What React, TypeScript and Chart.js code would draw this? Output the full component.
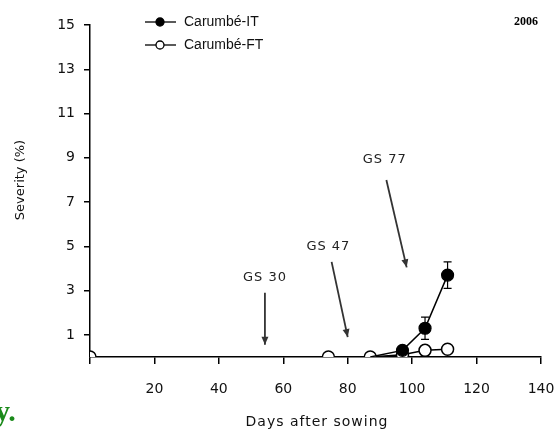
import React, { useEffect, useRef } from "react";
import { Chart, registerables } from "chart.js";
Chart.register(...registerables);

const seriesNames = ["Carumbé-IT", "Carumbé-FT"];
const daysIT = [87, 97, 104, 111];
const sevIT = [0, 0.3, 1.3, 3.7];
const errIT = [0, 0, 0.5, 0.6];
const daysFT = [0, 74, 87, 97, 104, 111];
const sevFT = [0, 0, 0, 0.1, 0.3, 0.35];
const errFT = [0, 0, 0, 0, 0, 0];
const yTicks = [1, 3, 5, 7, 9, 11, 13, 15];
const xTicks = [0, 20, 40, 60, 80, 100, 120, 140];
const stages = ["GS 30", "GS 47", "GS 77"];
const stageLabelX = [54.3, 74, 91.5];
const stageLabelY = [3.6, 5.0, 8.9];
const arrowFromX = [54.3, 75, 92];
const arrowFromY = [2.9, 4.3, 8.0];
const arrowToX = [54.3, 80, 98.3];
const arrowToY = [0.55, 0.9, 4.05];
const yearLabel = "2006";
const xTitle = "Days after sowing";
const yTitle = "Severity (%)";

const SANS = "'DejaVu Sans', Verdana, sans-serif";
const ARIAL = "'Liberation Sans', Arial, sans-serif";
const SERIF = "'Liberation Serif', 'Times New Roman', serif";

const overlay = {
  id: "overlay",
  beforeDatasetsDraw(chart: any) {
    const ctx = chart.ctx;
    const xs = chart.scales.x;
    const ys = chart.scales.y;
    ctx.save();
    ctx.strokeStyle = "#000";
    ctx.lineWidth = 1.2;
    const drawErr = (d: number[], v: number[], e: number[]) => {
      for (let i = 0; i < d.length; i++) {
        if (!e[i]) continue;
        const px = xs.getPixelForValue(d[i]);
        const top = ys.getPixelForValue(v[i] + e[i]);
        const bot = ys.getPixelForValue(v[i] - e[i]);
        ctx.beginPath();
        ctx.moveTo(px, top);
        ctx.lineTo(px, bot);
        ctx.moveTo(px - 4, top);
        ctx.lineTo(px + 4, top);
        ctx.moveTo(px - 4, bot);
        ctx.lineTo(px + 4, bot);
        ctx.stroke();
      }
    };
    drawErr(daysIT, sevIT, errIT);
    drawErr(daysFT, sevFT, errFT);
    ctx.restore();
  },
  afterDraw(chart: any) {
    const ctx = chart.ctx;
    const xs = chart.scales.x;
    const ys = chart.scales.y;
    ctx.save();
    // stage annotations
    ctx.textAlign = "center";
    ctx.textBaseline = "middle";
    for (let i = 0; i < stages.length; i++) {
      ctx.fillStyle = "#222";
      ctx.font = `13px ${SANS}`;
      (ctx as any).letterSpacing = "1px";
      ctx.fillText(stages[i], xs.getPixelForValue(stageLabelX[i]), ys.getPixelForValue(stageLabelY[i]));
      (ctx as any).letterSpacing = "0px";
      const x1 = xs.getPixelForValue(arrowFromX[i]);
      const y1 = ys.getPixelForValue(arrowFromY[i]);
      const x2 = xs.getPixelForValue(arrowToX[i]);
      const y2 = ys.getPixelForValue(arrowToY[i]);
      ctx.strokeStyle = "#333";
      ctx.lineWidth = 1.8;
      ctx.beginPath();
      ctx.moveTo(x1, y1);
      ctx.lineTo(x2, y2);
      ctx.stroke();
      const ang = Math.atan2(y2 - y1, x2 - x1);
      const L = 8, W = 3.5;
      ctx.fillStyle = "#333";
      ctx.beginPath();
      ctx.moveTo(x2, y2);
      ctx.lineTo(x2 - L * Math.cos(ang) + W * Math.sin(ang), y2 - L * Math.sin(ang) - W * Math.cos(ang));
      ctx.lineTo(x2 - L * Math.cos(ang) - W * Math.sin(ang), y2 - L * Math.sin(ang) + W * Math.cos(ang));
      ctx.closePath();
      ctx.fill();
    }
    // legend
    const legY = [22, 45];
    for (let i = 0; i < 2; i++) {
      ctx.strokeStyle = "#000";
      ctx.lineWidth = 1.3;
      ctx.beginPath();
      ctx.moveTo(145, legY[i]);
      ctx.lineTo(176, legY[i]);
      ctx.stroke();
      ctx.beginPath();
      ctx.arc(160, legY[i], 4, 0, Math.PI * 2);
      ctx.fillStyle = i === 0 ? "#000" : "#fff";
      ctx.fill();
      ctx.stroke();
      ctx.fillStyle = "#111";
      ctx.font = `14px ${ARIAL}`;
      ctx.textAlign = "left";
      ctx.textBaseline = "middle";
      ctx.fillText(seriesNames[i], 184, legY[i]);
    }
    // year
    ctx.font = `bold 12px ${SERIF}`;
    ctx.textAlign = "right";
    ctx.fillStyle = "#000";
    ctx.fillText(yearLabel, 538, 22);
    // axis titles
    ctx.font = `14px ${SANS}`;
    ctx.textAlign = "center";
    ctx.fillStyle = "#111";
    (ctx as any).letterSpacing = "1px";
    ctx.fillText(xTitle, 317, 422);
    (ctx as any).letterSpacing = "0px";
    ctx.save();
    ctx.translate(21, 180);
    ctx.rotate(-Math.PI / 2);
    ctx.font = `13px ${SANS}`;
    ctx.fillText(yTitle, 0, 0);
    ctx.restore();
    // green fragment at bottom-left
    ctx.fillStyle = "#1a8a1a";
    ctx.font = `bold 30px ${SERIF}`;
    ctx.textAlign = "left";
    ctx.textBaseline = "alphabetic";
    ctx.fillText("y.", -5, 421);
    ctx.restore();
  },
};

export default function App() {
  const ref = useRef<HTMLCanvasElement | null>(null);
  useEffect(() => {
    const canvas = ref.current!;
    const mk = (d: number[], v: number[]) => d.map((x, i) => ({ x, y: v[i] }));
    const chart = new Chart(canvas, {
      type: "scatter",
      data: {
        datasets: [
          {
            label: seriesNames[0],
            data: mk(daysIT, sevIT),
            showLine: true,
            order: 0,
            borderColor: "#000",
            borderWidth: 1.5,
            pointBackgroundColor: "#000",
            pointBorderColor: "#000",
            pointRadius: daysIT.map((_, i) => (i === 0 ? 0 : 6)),
            pointBorderWidth: 1.2,
          },
          {
            label: seriesNames[1],
            data: mk(daysFT, sevFT),
            showLine: true,
            order: 1,
            borderColor: "#000",
            borderWidth: 1.5,
            pointBackgroundColor: "#fff",
            pointBorderColor: "#000",
            pointRadius: 6,
            pointBorderWidth: 1.5,
          },
        ],
      },
      options: {
        responsive: false,
        animation: false,
        events: [],
        layout: { padding: { left: 0, right: 0, top: 25, bottom: 0 } },
        plugins: { legend: { display: false }, tooltip: { enabled: false } },
        scales: {
          x: {
            type: "linear",
            min: 0,
            max: 140,
            afterFit: (s: any) => { s.height = 78; s.paddingRight = 15; },
            afterBuildTicks: (s: any) => { s.ticks = xTicks.map((v) => ({ value: v })); },
            border: { color: "#000", width: 1.5 },
            grid: { drawOnChartArea: false, color: "#000", lineWidth: 1.5, tickLength: 7 },
            ticks: {
              color: "#111",
              font: { family: SANS, size: 14 },
              padding: 17,
              maxRotation: 0,
              callback: (v: any) => (v === 0 ? "" : String(v)),
            },
          },
          y: {
            type: "linear",
            min: 0,
            max: 15,
            afterFit: (s: any) => { s.width = 90; },
            afterBuildTicks: (s: any) => { s.ticks = yTicks.map((v) => ({ value: v })); },
            border: { color: "#000", width: 1.5 },
            grid: { drawOnChartArea: false, color: "#000", lineWidth: 1.5, tickLength: 6 },
            ticks: {
              color: "#111",
              font: { family: SANS, size: 14 },
              padding: 9,
              callback: (v: any) => String(v),
            },
          },
        },
      },
      plugins: [overlay],
    } as any);
    return () => chart.destroy();
  }, []);
  return (
    <div style={{ position: "fixed", left: 0, top: 0, width: 556, height: 435, background: "#fff" }}>
      <canvas ref={ref} width={556} height={435} />
    </div>
  );
}
